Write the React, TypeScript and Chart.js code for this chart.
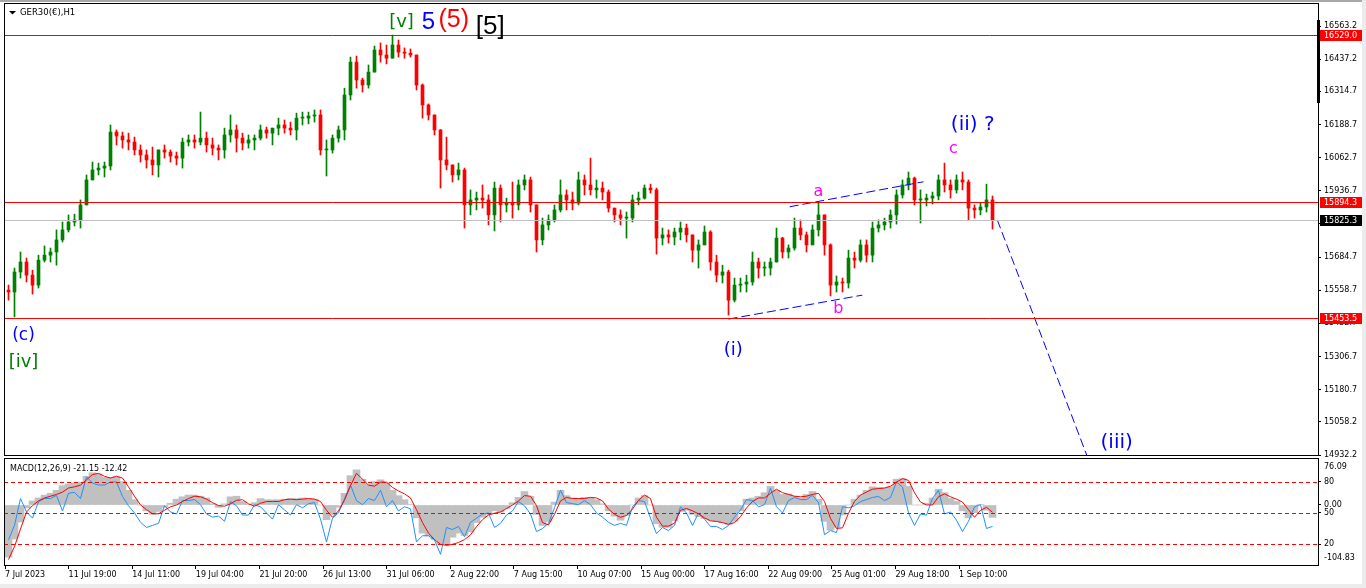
import React, { useEffect, useRef } from "react";
import { Chart, registerables } from "chart.js";

Chart.register(...registerables);

// ---------------- data ----------------
const timeLabels = [
  "7 Jul 2023", "11 Jul 19:00", "14 Jul 11:00", "19 Jul 04:00", "21 Jul 20:00",
  "26 Jul 13:00", "31 Jul 06:00", "2 Aug 22:00", "7 Aug 15:00", "10 Aug 07:00",
  "15 Aug 00:00", "17 Aug 16:00", "22 Aug 09:00", "25 Aug 01:00", "29 Aug 18:00",
  "1 Sep 10:00",
];

const priceTicks = [
  16563.2, 16437.2, 16314.7, 16188.7, 16062.7, 15936.7, 15810.7, 15684.7,
  15558.7, 15432.7, 15306.7, 15180.7, 15058.2, 14932.2,
];

const firstOpen = 15559;

const highs = [
  15578, 15643, 15704, 15681, 15635, 15692, 15727, 15719, 15788, 15818,
  15845, 15848, 15902, 15997, 16046, 16042, 16046, 16187, 16168, 16160,
  16156, 16141, 16111, 16092, 16103, 16092, 16111, 16092, 16084, 16137,
  16149, 16149, 16236, 16160, 16137, 16111, 16175, 16225, 16187, 16156,
  16149, 16149, 16187, 16179, 16175, 16213, 16206, 16198, 16232, 16236,
  16236, 16244, 16244, 16130, 16149, 16183, 16327, 16445, 16449, 16365,
  16415, 16487, 16499, 16491, 16529, 16510, 16480, 16476, 16453, 16343,
  16267, 16225, 16170, 16141, 16035, 16042, 16023, 15940, 15932, 15959,
  15921, 15970, 15959, 15909, 15970, 15978, 15997, 15989, 15883, 15833,
  15845, 15883, 15978, 15940, 15932, 16008, 15997, 16061, 15978, 15970,
  15940, 15871, 15864, 15856, 15921, 15932, 15959, 15962, 15947, 15795,
  15788, 15795, 15818, 15810, 15769, 15750, 15803, 15785, 15692, 15654,
  15635, 15605, 15605, 15616, 15704, 15681, 15666, 15681, 15795, 15760,
  15731, 15833, 15826, 15780, 15807, 15890, 15845, 15735, 15613, 15605,
  15711, 15704, 15750, 15750, 15818, 15826, 15833, 15864, 15940, 15978,
  16008, 15989, 15940, 15924, 15932, 15997, 16042, 15978, 15997, 16008,
  15978, 15883, 15890, 15962, 15917,
];

const lows = [
  15521, 15457, 15605, 15590, 15544, 15567, 15666, 15666, 15654, 15742,
  15780, 15803, 15795, 15883, 15978, 15997, 15989, 16016, 16111, 16099,
  16092, 16073, 16046, 16023, 15997, 15989, 16061, 16046, 16035, 16023,
  16107, 16099, 16111, 16084, 16073, 16054, 16061, 16122, 16084, 16092,
  16099, 16092, 16130, 16137, 16111, 16149, 16156, 16149, 16130, 16187,
  16191, 16198, 16073, 15993, 16080, 16122, 16130, 16282, 16327, 16312,
  16327, 16388, 16426, 16419, 16441, 16445, 16441, 16445, 16320, 16213,
  16206, 16149, 15947, 16016, 15970, 15978, 15795, 15845, 15864, 15871,
  15807, 15784, 15818, 15856, 15833, 15864, 15940, 15856, 15704, 15731,
  15788, 15818, 15856, 15864, 15864, 15883, 15921, 15921, 15909, 15902,
  15856, 15818, 15807, 15757, 15818, 15883, 15905, 15928, 15696, 15731,
  15738, 15731, 15750, 15742, 15666, 15643, 15731, 15635, 15590, 15586,
  15464, 15514, 15552, 15552, 15578, 15605, 15613, 15616, 15666, 15681,
  15681, 15711, 15750, 15704, 15731, 15765, 15692, 15537, 15552, 15552,
  15567, 15643, 15666, 15666, 15666, 15780, 15788, 15795, 15810, 15909,
  15940, 15883, 15814, 15879, 15886, 15902, 15932, 15909, 15928, 15940,
  15826, 15833, 15845, 15856, 15791,
];

const closes = [
  15552, 15628, 15666, 15616, 15578, 15673, 15692, 15704, 15750, 15788,
  15818, 15826, 15883, 15978, 16016, 16023, 16031, 16160, 16145, 16130,
  16122, 16092, 16073, 16054, 16035, 16092, 16084, 16069, 16061, 16122,
  16130, 16122, 16137, 16111, 16099, 16092, 16149, 16168, 16137, 16118,
  16130, 16137, 16168, 16156, 16175, 16187, 16175, 16168, 16213, 16213,
  16221, 16225, 16092, 16092, 16137, 16168, 16301, 16426, 16358, 16339,
  16388, 16472, 16453, 16441, 16491, 16464, 16460, 16453, 16339, 16263,
  16225, 16168, 16054, 16035, 15997, 16016, 15883, 15902, 15909, 15902,
  15845, 15947, 15883, 15890, 15883, 15959, 15978, 15883, 15750, 15807,
  15826, 15864, 15921, 15902, 15890, 15978, 15959, 15940, 15947, 15932,
  15871, 15845, 15833, 15833, 15902, 15909, 15947, 15940, 15757, 15769,
  15761, 15780, 15795, 15769, 15711, 15731, 15780, 15666, 15616, 15628,
  15521, 15578, 15582, 15590, 15666, 15643, 15643, 15666, 15757, 15704,
  15719, 15795, 15769, 15731, 15788, 15845, 15731, 15578, 15590, 15586,
  15681, 15673, 15731, 15692, 15795, 15807, 15818, 15845, 15921, 15959,
  15985, 15902, 15902, 15909, 15917, 15978, 15959, 15940, 15978, 15970,
  15871, 15864, 15875, 15902, 15825.3,
];

const redLevels = [16529.0, 15894.3, 15453.5];
const bidPrice = 15825.3;

const macdMain = [
  -89, -58, -29, -5, 7, 12, 17, 20, 25, 33,
  36, 38, 39, 49, 55, 53, 47, 47, 48, 40,
  25, 9, 0, -10, -16, -11, -4, 3, 10, 14,
  17, 17, 15, 12, 2, -4, 2, 14, 15, 6,
  1, 4, 11, 9, 9, 9, 10, 11, 11, 12,
  11, 10, 0, -25, -16, -4, 20, 50, 60, 44,
  35, 40, 43, 38, 25, 16, 9, 1, -22, -48,
  -53, -59, -67, -67, -55, -48, -52, -46, -30, -21,
  -16, -10, -12, -6, 4, 13, 23, 15, -16, -35,
  -28, 5, 25, 16, 12, 11, 13, 12, 9, 2,
  -10, -19, -26, -18, 0, 12, 16, 0, -32, -38,
  -38, -27, -11, -9, -16, -20, -23, -26, -28, -30,
  -33, -28, -10, 10, 12, 15, 21, 32, 25, 18,
  19, 15, 12, 18, 23, 10, -28, -43, -38, -17,
  0, 10, 17, 25, 31, 30, 29, 31, 44, 45,
  32, 0, 0, 3, 12, 27, 21, 11, 6, -10,
  -22, -13, 1, -9, -21.15,
];

const macdSignal = [
  -93, -71, -41, -12, -1, 7, 12, 15, 18, 22,
  29, 31, 34, 43, 52, 54, 49, 46, 49, 46,
  31, 15, 0, -8, -15, -15, -9, -3, 0, 6,
  11, 15, 14, 10, 4, -1, -2, 2, 8, 9,
  2, -2, 3, 6, 6, 6, 9, 10, 9, 10,
  11, 10, 6, -9, -21, -10, 8, 33, 54, 44,
  34, 32, 39, 39, 30, 24, 19, 12, -8, -30,
  -48, -59, -67, -69, -67, -64, -59, -51, -37, -25,
  -17, -14, -12, -6, 0, 7, 16, 15, -1, -30,
  -34, -16, 7, 13, 11, 11, 11, 13, 12, 7,
  -7, -16, -21, -18, -7, 8, 17, 11, -21, -36,
  -36, -31, -9, -6, -10, -15, -22, -27, -28, -30,
  -33, -30, -20, -5, 6, 12, 12, 20, 27, 21,
  18, 15, 14, 15, 18, 20, 6, -23, -40, -39,
  -14, 6, 17, 22, 27, 28, 29, 32, 39, 45,
  42, 21, 5, 0, 0, 14, 19, 14, 10, 5,
  -8, -21, -9, -4, -12.42,
];

const oscLine = [
  24, 38, 64, 51, 45, 61, 64, 64, 67, 52,
  69, 70, 64, 85, 79, 77, 77, 80, 80, 66,
  57, 50, 41, 36, 38, 40, 57, 51, 49, 62,
  62, 63, 58, 49, 46, 47, 42, 61, 57, 48,
  48, 58, 56, 50, 44, 58, 53, 48, 58, 55,
  59, 60, 44, 22, 45, 50, 64, 77, 62, 58,
  64, 62, 72, 56, 62, 52, 56, 54, 22, 28,
  28, 24, 10, 36, 34, 37, 27, 41, 45, 49,
  50, 36, 40, 48, 52, 61, 57, 49, 32, 35,
  40, 55, 72, 60, 59, 58, 62, 58, 50, 46,
  41, 38, 40, 38, 56, 62, 61, 45, 30, 36,
  33, 38, 56, 50, 38, 50, 44, 37, 37, 34,
  38, 46, 53, 63, 62, 56, 58, 74, 56, 50,
  62, 65, 63, 63, 67, 60, 29, 33, 31, 56,
  55, 57, 61, 63, 65, 66, 62, 65, 80, 75,
  50, 38, 49, 48, 64, 72, 49, 51, 43, 32,
  42, 56, 58, 35, 37,
];

const oscLevels = [80, 50, 20];
const macdZeroTicks = [0];
const macdRangeLabels = ["76.09", "-104.83"];

const waveTexts = ["[v]", "5", "(5)", "[5]", "(c)", "[iv]", "(i)", "a", "b", "c", "(ii) ?", "(iii)"];
const waveBars = [65.5, 70, 74.2, 80.3, 2.5, 2.5, 120.8, 135, 138.3, 157.5, 160.7, 184.7];
const wavePrices = [16578, 16578, 16586, 16559, 15388, 15286, 15331, 15932, 15487, 16096, 16187, 14978];

const upperChannel = [[130.2, 15876], [152.5, 15971]];
const lowerChannel = [[120, 15449], [142.3, 15540]];
const projection = [[164.8, 15826], [179.7, 14932]];

// ---------------- styles / layout ----------------
const FONT = '"DejaVu Sans"';
const GREEN = "#008000";
const RED = "#ff0000";
const BLUE = "#0000ff";
const MAGENTA = "#ff00ff";
const waveStyle = [
  { color: GREEN, font: `18px ${FONT}` },
  { color: BLUE, font: `24px "Liberation Sans"` },
  { color: RED, font: `25px "Liberation Sans"` },
  { color: "#000000", font: `26px "Liberation Sans"` },
  { color: BLUE, font: `17px ${FONT}` },
  { color: GREEN, font: `18px ${FONT}` },
  { color: BLUE, font: `18px ${FONT}` },
  { color: MAGENTA, font: `16px ${FONT}` },
  { color: MAGENTA, font: `16px ${FONT}` },
  { color: MAGENTA, font: `16px ${FONT}` },
  { color: BLUE, font: `20px ${FONT}` },
  { color: BLUE, font: `20px ${FONT}` },
];

const XMIN = -0.75;
const XMAX = XMIN + 219;
const LABEL_START = -0.58;
const LABEL_STEP = 10.6;
const PRICE_MIN = 14932.2;
const PRICE_MAX = 16646.9;
const MACD_MIN = -102.4;
const MACD_MAX = 78.5;
const OSC_MIN = -0.3;
const OSC_MAX = 102.2;
const AXIS_W = 48;

const tickFont = { family: "DejaVu Sans", size: 8 };

const opens = closes.map((_, i) => (i === 0 ? firstOpen : closes[i - 1]));
const candleColors = closes.map((c, i) => (c >= opens[i] ? GREEN : RED));

// the oscillator shares the MACD window: map a level of its 0..100 scale onto the MACD axis
const oscToMacd = (v: number) =>
  MACD_MIN + ((v - OSC_MIN) / (OSC_MAX - OSC_MIN)) * (MACD_MAX - MACD_MIN);

function hLine(ctx: CanvasRenderingContext2D, a: any, y: number, color: string, dash: number[] = []) {
  const yy = Math.round(y) + 0.5;
  ctx.save();
  ctx.strokeStyle = color;
  ctx.lineWidth = 1;
  ctx.setLineDash(dash);
  ctx.beginPath();
  ctx.moveTo(a.left, yy);
  ctx.lineTo(a.right, yy);
  ctx.stroke();
  ctx.restore();
}

function frame(ctx: CanvasRenderingContext2D, a: any) {
  ctx.save();
  ctx.strokeStyle = "#000";
  ctx.lineWidth = 1;
  ctx.strokeRect(a.left + 0.5, a.top - 0.5, a.right - a.left, a.bottom - a.top + 1);
  ctx.restore();
}

const mainDecor = {
  id: "mainDecor",
  afterDatasetsDraw(chart: any) {
    const { ctx, chartArea: a, scales } = chart;
    const y = scales.y;
    hLine(ctx, a, y.getPixelForValue(bidPrice), "#c0c0c0");
    redLevels.forEach((v) => hLine(ctx, a, y.getPixelForValue(v), RED));
  },
  afterDraw(chart: any) {
    const { ctx, chartArea: a, scales } = chart;
    const x = scales.x;
    const y = scales.y;
    frame(ctx, a);
    ctx.save();
    ctx.fillStyle = "#000";
    ctx.fillRect(a.right - 1, 20, 3, 83);
    ctx.font = `8px ${FONT}`;
    ctx.textBaseline = "middle";
    ctx.textAlign = "left";
    const marker = (v: number, bg: string) => {
      const yy = Math.round(y.getPixelForValue(v));
      ctx.fillStyle = bg;
      ctx.fillRect(a.right + 2, yy - 5, 42, 11);
      ctx.fillStyle = "#fff";
      ctx.fillText(v.toFixed(1), a.right + 6, yy + 0.5);
    };
    redLevels.forEach((v) => marker(v, RED));
    marker(bidPrice, "#000");
    ctx.fillStyle = "#000";
    ctx.beginPath();
    ctx.moveTo(9, 11);
    ctx.lineTo(16, 11);
    ctx.lineTo(12.5, 14.5);
    ctx.closePath();
    ctx.fill();
    ctx.font = `8.5px ${FONT}`;
    ctx.fillText("GER30(€),H1", 20, 13);
    ctx.textAlign = "center";
    waveTexts.forEach((t, i) => {
      ctx.font = waveStyle[i].font;
      ctx.fillStyle = waveStyle[i].color;
      ctx.fillText(t, x.getPixelForValue(waveBars[i]), y.getPixelForValue(wavePrices[i]));
    });
    ctx.restore();
  },
};

const macdDecor = {
  id: "macdDecor",
  afterDatasetsDraw(chart: any) {
    const { ctx, chartArea: a, scales } = chart;
    oscLevels.forEach((v) => hLine(ctx, a, scales.y2.getPixelForValue(v), RED, [4, 3]));
  },
  afterDraw(chart: any) {
    const { ctx, chartArea: a } = chart;
    frame(ctx, a);
    ctx.save();
    ctx.font = `8px ${FONT}`;
    ctx.fillStyle = "#000";
    ctx.textBaseline = "middle";
    ctx.textAlign = "left";
    ctx.fillText(macdRangeLabels[0], a.right + 6, a.top + 8);
    ctx.fillText(macdRangeLabels[1], a.right + 6, a.bottom - 7);
    const last = macdMain.length - 1;
    ctx.fillText(
      `MACD(12,26,9) ${macdMain[last].toFixed(2)} ${macdSignal[last].toFixed(2)}`,
      a.left + 6,
      a.top + 10
    );
    ctx.restore();
  },
};

const dashLine = (pts: number[][]) => ({
  type: "line" as const,
  data: pts.map(([x, y]) => ({ x, y })),
  borderColor: BLUE,
  borderWidth: 1,
  borderDash: [9, 4],
  pointRadius: 0,
  order: 0,
});

function noPad(s: any) {
  s.paddingTop = 0;
  s.paddingBottom = 0;
  s.paddingLeft = 0;
  s.paddingRight = 0;
}

export default function App() {
  const mainRef = useRef<HTMLCanvasElement>(null);
  const macdRef = useRef<HTMLCanvasElement>(null);

  useEffect(() => {
    document.body.style.margin = "0";
    const main = new Chart(mainRef.current as HTMLCanvasElement, {
      type: "bar",
      data: {
        datasets: [
          dashLine(upperChannel),
          dashLine(lowerChannel),
          dashLine(projection),
          {
            type: "bar",
            data: closes.map((_, i) => ({ x: i, y: [lows[i], highs[i]] })),
            backgroundColor: candleColors,
            barThickness: 1,
            grouped: false,
            order: 2,
          },
          {
            type: "bar",
            data: closes.map((c, i) => ({ x: i, y: [opens[i], c] })),
            backgroundColor: candleColors,
            barThickness: 3,
            minBarLength: 1,
            grouped: false,
            order: 1,
          },
        ] as any,
      },
      options: {
        animation: false,
        responsive: false,
        events: [],
        layout: { padding: { left: 4, top: 4, right: 0, bottom: 3 } },
        plugins: { legend: { display: false }, tooltip: { enabled: false } },
        scales: {
          x: {
            type: "linear",
            min: XMIN,
            max: XMAX,
            display: false,
            offset: false,
            grid: { offset: false },
          },
          y: {
            type: "linear",
            position: "right",
            min: PRICE_MIN,
            max: PRICE_MAX,
            bounds: "data",
            afterBuildTicks: (s: any) => {
              s.ticks = priceTicks.map((v) => ({ value: v }));
            },
            ticks: {
              autoSkip: false,
              color: "#000",
              font: tickFont,
              padding: 3,
              callback: (v: any) => Number(v).toFixed(1),
            },
            grid: { drawOnChartArea: false, drawTicks: true, tickLength: 3, color: "#000" },
            border: { display: false },
            afterFit: (s: any) => {
              s.width = AXIS_W;
              noPad(s);
            },
          },
        },
      } as any,
      plugins: [mainDecor],
    });

    const macd = new Chart(macdRef.current as HTMLCanvasElement, {
      type: "bar",
      data: {
        datasets: [
          {
            type: "line",
            data: macdSignal.map((v, i) => ({ x: i, y: v })),
            yAxisID: "y",
            borderColor: RED,
            borderWidth: 1,
            pointRadius: 0,
            order: 1,
          },
          {
            type: "line",
            data: oscLine.map((v, i) => ({ x: i, y: v })),
            yAxisID: "y2",
            borderColor: "#1e90ff",
            borderWidth: 1,
            pointRadius: 0,
            order: 2,
          },
          {
            type: "bar",
            data: macdMain.map((v, i) => ({ x: i, y: v })),
            yAxisID: "y",
            backgroundColor: "#c0c0c0",
            barThickness: 7,
            grouped: false,
            order: 3,
          },
        ] as any,
      },
      options: {
        animation: false,
        responsive: false,
        events: [],
        layout: { padding: { left: 4, top: 2, right: 0, bottom: 0 } },
        plugins: { legend: { display: false }, tooltip: { enabled: false } },
        scales: {
          x: {
            type: "linear",
            position: "bottom",
            min: XMIN,
            max: XMAX,
            offset: false,
            afterBuildTicks: (s: any) => {
              s.ticks = timeLabels.map((_, k) => ({ value: LABEL_START + k * LABEL_STEP }));
            },
            ticks: {
              autoSkip: false,
              maxRotation: 0,
              minRotation: 0,
              align: "start",
              color: "#000",
              font: tickFont,
              padding: 1,
              callback: (_v: any, i: number) => timeLabels[i],
            },
            grid: { drawOnChartArea: false, drawTicks: true, tickLength: 4, color: "#000", offset: false },
            border: { display: false },
            afterFit: (s: any) => {
              s.height = 19;
              noPad(s);
            },
          },
          y: {
            type: "linear",
            position: "right",
            min: MACD_MIN,
            max: MACD_MAX,
            bounds: "data",
            afterBuildTicks: (s: any) => {
              s.ticks = [
                ...macdZeroTicks.map((v) => ({ value: v })),
                ...oscLevels.map((v) => ({ value: oscToMacd(v) })),
              ];
            },
            ticks: {
              autoSkip: false,
              color: "#000",
              font: tickFont,
              padding: 3,
              callback: (v: any, i: number) =>
                i < macdZeroTicks.length ? Number(v).toFixed(2) : String(oscLevels[i - macdZeroTicks.length]),
            },
            grid: { drawOnChartArea: false, drawTicks: true, tickLength: 3, color: "#000" },
            border: { display: false },
            afterFit: (s: any) => {
              s.width = AXIS_W;
              noPad(s);
            },
          },
          y2: {
            type: "linear",
            display: false,
            min: OSC_MIN,
            max: OSC_MAX,
          },
        },
      } as any,
      plugins: [macdDecor],
    });

    return () => {
      main.destroy();
      macd.destroy();
    };
  }, []);

  return (
    <div
      style={{
        position: "fixed",
        left: 0,
        top: 0,
        width: 1366,
        height: 588,
        background: "#ffffff",
        overflow: "hidden",
      }}
    >
      <div style={{ position: "absolute", left: 0, top: 0, width: 1366, height: 2, background: "#a8a8a8" }} />
      <canvas
        ref={mainRef}
        width={1366}
        height={458}
        style={{ position: "absolute", left: 0, top: 0, width: 1366, height: 458 }}
      />
      <canvas
        ref={macdRef}
        width={1366}
        height={127}
        style={{ position: "absolute", left: 0, top: 457, width: 1366, height: 127 }}
      />
      <div style={{ position: "absolute", left: 0, top: 584, width: 1366, height: 4, background: "#ececec" }} />
      <div style={{ position: "absolute", left: 1362, top: 0, width: 4, height: 588, background: "#ececec" }} />
    </div>
  );
}
